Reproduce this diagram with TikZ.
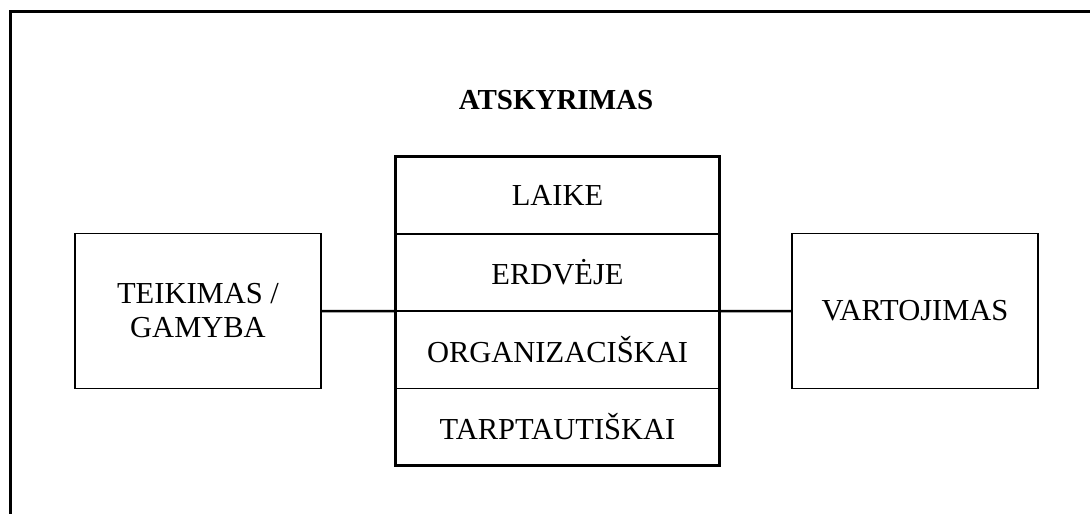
\documentclass[tikz,border=0pt]{standalone}
\usepackage{fontspec}
\setmainfont{Liberation Serif}
\usepackage{tikz}
\usetikzlibrary{positioning}

\begin{document}
\begin{tikzpicture}[x=1pt,y=-1pt,
  every node/.style={inner sep=0pt,font=\fontsize{30.5}{34}\selectfont,align=center},
  sidebox/.style={draw,line width=1.8pt,minimum width=246pt,minimum height=155pt},
  cell/.style={minimum width=323pt,minimum height=77pt}]
  \useasboundingbox (0,0) rectangle (1090,514);
  % outer frame (left and top only)
  \draw[line width=3pt] (10,514) -- (10,11) -- (1090,11);
  \node[font=\fontsize{29}{33}\selectfont\bfseries] (title) at (556,100) {ATSKYRIMAS};
  \node[sidebox] (supply) at (198,311) {TEIKIMAS /\\GAMYBA};
  \node[sidebox] (use) at (915,311) {VARTOJIMAS};
  \foreach \i/\txt in {1/LAIKE, 2/ERDVĖJE, 3/ORGANIZACIŠKAI, 4/TARPTAUTIŠKAI}{
    \node[cell] (c\i) at (557.5,118.5+77*\i) {\txt};
  }
  \draw[line width=2.2pt] (c1.south west) -- (c1.south east);
  \draw[line width=2.4pt] (c2.south west) -- (c2.south east);
  \draw[line width=1.4pt] (c3.south west) -- (c3.south east);
  \draw[line width=3pt] (c1.north west) rectangle (c4.south east);
  \draw[line width=2.5pt] (supply.east) -- (c2.south west);
  \draw[line width=2.5pt] (c2.south east) -- (use.west);
\end{tikzpicture}
\end{document}
